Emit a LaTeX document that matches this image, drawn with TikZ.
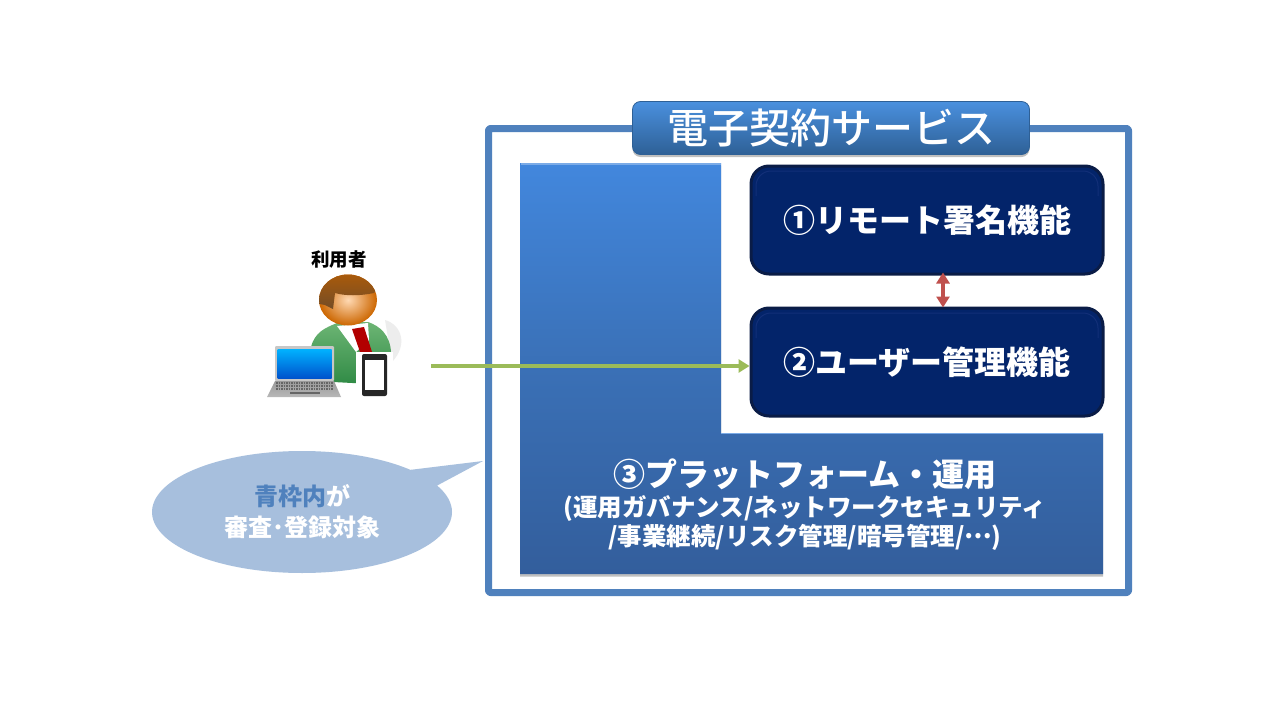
\documentclass[tikz,border=0pt]{standalone}
\usepackage{fontspec}
\setmainfont{Noto Sans CJK JP}
\newfontfamily\medfont{Noto Sans CJK JP Medium}
\usetikzlibrary{arrows.meta,shapes.callouts,shadows}
\definecolor{framecol}{HTML}{4F81BD}
\definecolor{navycol}{HTML}{03246A}
\definecolor{navyedge}{HTML}{0A1C46}
\definecolor{navylite}{HTML}{122F78}
\definecolor{bubblecol}{HTML}{A7BFDD}
\definecolor{redcol}{HTML}{C0504D}
\definecolor{greencol}{HTML}{9BBB59}
\definecolor{platetop}{HTML}{4287DD}
\definecolor{platemid}{HTML}{3A70B6}
\definecolor{platebot}{HTML}{335E9C}
\definecolor{titletop}{HTML}{4A90DE}
\definecolor{titlebot}{HTML}{2E6096}
\definecolor{suitlite}{HTML}{6DB574}
\definecolor{suitdark}{HTML}{2F8A45}
\tikzset{
  softshadow/.style={drop shadow={shadow xshift=0pt,shadow yshift=-2.5pt,opacity=.25,fill=black}},
  titlebox/.style={rounded corners=8pt,minimum width=397pt,minimum height=53pt,inner sep=0pt,
    top color=titletop,bottom color=titlebot,draw=titlebot,line width=.8pt,
    text=white,font=\fontsize{41}{41}\selectfont\medfont,softshadow},
  funcbox/.style={rounded corners=18pt,minimum width=352pt,minimum height=108pt,inner sep=0pt,
    fill=navycol,draw=navyedge,line width=3pt,text=white,
    font=\fontsize{32}{32}\selectfont\bfseries,
    path picture={\draw[navylite,line width=1pt,rounded corners=15pt]
      ([xshift=5pt,yshift=-30pt]path picture bounding box.north west) |-
      ([xshift=-5pt,yshift=-5pt]path picture bounding box.north east) --
      ([xshift=-5pt,yshift=-30pt]path picture bounding box.north east);}},
  platebox/.style={text=white,align=center,inner sep=0pt,font=\fontsize{24.5}{29.5}\selectfont\bfseries},
  bubblebox/.style={ellipse callout,callout pointer arc=18,fill=bubblecol,minimum width=300pt,minimum height=122pt,inner sep=0pt,
    text=white,align=center,font=\fontsize{24}{31}\selectfont\bfseries},
}
\begin{document}
\begin{tikzpicture}[x=1pt,y=-1pt,>={Triangle[length=11pt,width=13pt]},line join=round]
\useasboundingbox[fill=white] (0,0) rectangle (1280,720);
% outer frame
\draw[framecol,line width=7pt,rounded corners=2pt] (488.5,128.5) rectangle (1128.5,592.5);
\node[titlebox] (title) at (831,128) {電子契約サービス};
% platform block
\shade[top color=platetop,bottom color=platebot,middle color=platemid,softshadow]
  (520,163)--(721,163)--(721,433)--(1103,433)--(1103,574)--(520,574)--cycle;
\draw[platetop!70!white,line width=1.5pt] (521,164)--(721,164) (721,433.5)--(1103,433.5);
\node[platebox] (plate) at (805,505) {{\fontsize{32}{38}\selectfont ③プラットフォーム・運用}\\(運用ガバナンス/ネットワークセキュリティ\\/事業継続/リスク管理/暗号管理/\raisebox{.3em}{…})};
\node[funcbox] (fn1) at (927,220) {①リモート署名機能};
\node[funcbox] (fn2) at (927,362) {②ユーザー管理機能};
\coordinate (linkx) at (943,290);
\draw[<->,redcol,line width=4pt,shorten <=-3pt,shorten >=-1pt] (linkx |- fn1.south) -- (linkx |- fn2.north);
% user icon
\node[font=\fontsize{18.5}{18.5}\selectfont\bfseries] (user) at (339,260) {利用者};
\fill[black!7] (385,320) .. controls (402,325) and (408,345) .. (392,362) -- cycle;
\shade[top color=suitlite,bottom color=suitdark]
  (311,347) .. controls (315,332) and (325,328) .. (337,323)--(368,322)
  .. controls (380,326) and (390,335) .. (391,352)--(391,385)--(333,382)--cycle;
\fill[white] (337,326)--(368,323)--(369,340)--(356,352)--cycle;
\fill[red!70!black] (352,329)--(364,327)--(372,352)--(360,352)--cycle;
\fill[white] (356,352) rectangle (393,397);
\shade[inner color=orange!30!white,outer color=orange!80!black] (348,300) ellipse (29 and 25.5);
\begin{scope}
  \clip (348,300) ellipse (29 and 25.5);
  \shade[top color=orange!75!black,bottom color=brown!60!black]
    (374,293) .. controls (360,296) and (345,296) .. (335,293)--(333,309)--(325,305)--(300,300)--(300,260)--(400,260)--cycle;
\end{scope}
\fill[black!22,rounded corners=1pt] (275,346) rectangle (334,381);
\shade[top color=cyan!70!blue,bottom color=blue!60!cyan!80!black] (277.5,349) rectangle (331.5,378.5);
\shade[top color=black!40,bottom color=black!28] (275,381)--(334,381)--(341,397)--(267,397)--cycle;
\foreach \ky in {383,386,389}
  \draw[black!60,line width=1.4pt,dash pattern=on 1.5pt off 1pt] (276,\ky)--(333,\ky);
\fill[black!60] (290,391.5) rectangle (320,394);
\fill[black!85,rounded corners=2pt] (362,354) rectangle (387,396);
\fill[white] (365,360) rectangle (384,390);
% arrow and bubble
\coordinate (start) at (431,366);
\draw[->,greencol,line width=4.5pt] (start) -- (start -| fn2.west);
\node[bubblebox,callout absolute pointer={(483,461)}] (bubble) at (302,512) {{\color{framecol}青枠内}が\\審査･登録対象};
\end{tikzpicture}
\end{document}
